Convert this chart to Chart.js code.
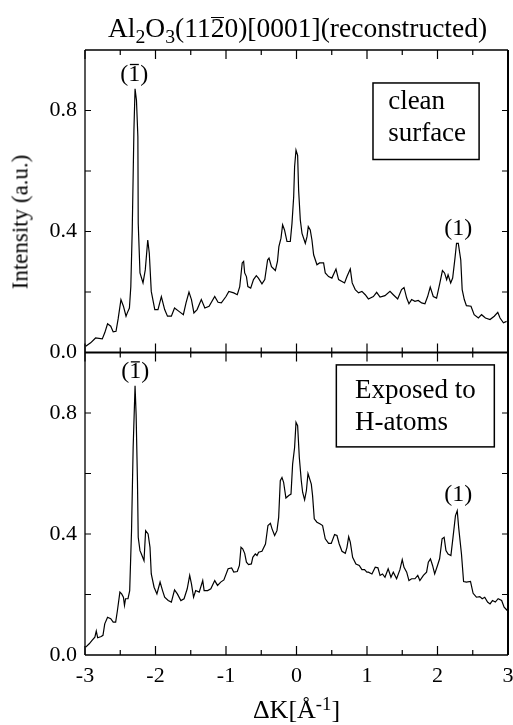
<!DOCTYPE html>
<html><head><meta charset="utf-8">
<script src="https://cdn.jsdelivr.net/npm/chart.js@4.4.0/dist/chart.umd.min.js"></script>
<style>
html,body{margin:0;padding:0;background:#fff;}
#wrap{position:relative;width:513px;height:725px;font-family:"Liberation Serif","Times New Roman",serif;color:#000;overflow:hidden;}
canvas{position:absolute;left:0;top:0;}
.t{position:absolute;white-space:nowrap;line-height:1;}
sub{font-size:0.72em;vertical-align:-0.28em;line-height:0;}
sup{font-size:0.72em;vertical-align:0.42em;line-height:0;}
.ov{display:inline-block;border-top:1.5px solid #000;line-height:0.74;}
</style></head><body>
<div id="wrap">
<canvas id="c" width="513" height="725"></canvas>
<div class="t" id="title" style="left:0;width:513px;top:14px;text-align:center;font-size:27.5px;padding-left:82px;box-sizing:border-box;">Al<sub>2</sub>O<sub>3</sub>(11<span class="ov">2</span>0)[0001](reconstructed)</div>
<div class="t" id="xlab" style="left:0;width:513px;top:697px;text-align:center;font-size:26px;padding-left:80px;box-sizing:border-box;">ΔK[Å<sup>-1</sup>]</div>
<div class="t" id="ylab" style="left:20px;top:222px;font-size:23px;transform:translate(-50%,-50%) rotate(-90deg);">Intensity (a.u.)</div>
</div>
<script>
// ---- data ----
const xTop = [-2.99,-2.92,-2.85,-2.755,-2.72,-2.68,-2.635,-2.60,-2.56,-2.53,-2.49,-2.455,-2.418,-2.40,-2.37,-2.35,-2.33,-2.306,-2.29,-2.27,-2.25,-2.245,-2.22,-2.177,-2.145,-2.11,-2.088,-2.06,-2.01,-1.965,-1.917,-1.87,-1.83,-1.775,-1.73,-1.667,-1.605,-1.567,-1.525,-1.49,-1.455,-1.41,-1.35,-1.30,-1.24,-1.16,-1.113,-1.066,-1.0,-0.96,-0.89,-0.84,-0.805,-0.77,-0.75,-0.735,-0.71,-0.69,-0.65,-0.61,-0.57,-0.54,-0.49,-0.45,-0.41,-0.39,-0.355,-0.30,-0.27,-0.25,-0.22,-0.197,-0.17,-0.135,-0.088,-0.064,-0.04,-0.027,-0.007,0.016,0.03,0.054,0.078,0.125,0.149,0.167,0.195,0.219,0.243,0.29,0.327,0.384,0.408,0.455,0.502,0.56,0.597,0.645,0.682,0.716,0.763,0.79,0.833,0.88,0.928,0.975,1.02,1.09,1.137,1.185,1.255,1.326,1.373,1.435,1.49,1.525,1.563,1.595,1.633,1.68,1.727,1.775,1.822,1.86,1.897,1.94,1.987,2.034,2.07,2.10,2.13,2.15,2.187,2.215,2.248,2.27,2.295,2.33,2.35,2.38,2.41,2.475,2.52,2.58,2.625,2.68,2.745,2.805,2.855,2.887,2.935,2.98];
const iTop = [0.021,0.032,0.048,0.045,0.065,0.095,0.087,0.068,0.070,0.111,0.175,0.153,0.120,0.131,0.147,0.218,0.405,0.735,0.872,0.834,0.713,0.427,0.263,0.230,0.273,0.372,0.328,0.202,0.142,0.142,0.185,0.142,0.120,0.120,0.147,0.136,0.125,0.164,0.200,0.175,0.131,0.142,0.175,0.147,0.153,0.185,0.166,0.164,0.185,0.202,0.197,0.191,0.218,0.296,0.301,0.263,0.251,0.218,0.213,0.241,0.254,0.246,0.227,0.241,0.306,0.312,0.284,0.271,0.301,0.350,0.378,0.422,0.405,0.367,0.367,0.427,0.515,0.614,0.669,0.652,0.537,0.438,0.394,0.361,0.383,0.416,0.405,0.372,0.323,0.290,0.296,0.296,0.263,0.251,0.246,0.276,0.241,0.235,0.230,0.251,0.276,0.230,0.208,0.197,0.202,0.191,0.177,0.185,0.199,0.183,0.188,0.202,0.191,0.177,0.208,0.215,0.180,0.161,0.175,0.169,0.172,0.164,0.161,0.185,0.216,0.185,0.180,0.230,0.271,0.263,0.241,0.257,0.230,0.246,0.312,0.361,0.361,0.306,0.208,0.175,0.155,0.153,0.125,0.114,0.125,0.114,0.109,0.120,0.133,0.114,0.098,0.103];
const xBot = [-2.99,-2.94,-2.90,-2.86,-2.84,-2.82,-2.77,-2.745,-2.72,-2.68,-2.635,-2.60,-2.565,-2.54,-2.505,-2.48,-2.455,-2.44,-2.425,-2.39,-2.366,-2.34,-2.317,-2.29,-2.275,-2.256,-2.245,-2.22,-2.20,-2.163,-2.14,-2.105,-2.078,-2.06,-2.02,-1.98,-1.935,-1.90,-1.87,-1.82,-1.775,-1.73,-1.69,-1.64,-1.595,-1.55,-1.515,-1.49,-1.46,-1.43,-1.38,-1.33,-1.31,-1.26,-1.215,-1.16,-1.12,-1.075,-1.03,-0.97,-0.92,-0.89,-0.84,-0.81,-0.787,-0.763,-0.735,-0.71,-0.68,-0.64,-0.62,-0.584,-0.56,-0.537,-0.49,-0.44,-0.405,-0.37,-0.347,-0.31,-0.277,-0.253,-0.23,-0.206,-0.183,-0.15,-0.11,-0.078,-0.055,-0.027,-0.007,0.016,0.04,0.068,0.087,0.115,0.14,0.163,0.18,0.21,0.228,0.252,0.29,0.337,0.37,0.408,0.455,0.493,0.54,0.574,0.606,0.645,0.692,0.716,0.74,0.763,0.796,0.843,0.89,0.928,0.965,0.998,1.02,1.07,1.117,1.155,1.185,1.22,1.255,1.30,1.34,1.373,1.42,1.467,1.50,1.525,1.563,1.595,1.633,1.68,1.72,1.75,1.80,1.845,1.87,1.90,1.93,1.96,2.0,2.03,2.065,2.094,2.12,2.15,2.19,2.22,2.255,2.28,2.30,2.34,2.37,2.41,2.468,2.505,2.552,2.60,2.634,2.67,2.71,2.745,2.78,2.82,2.86,2.91,2.945,2.99];
const iBot = [0.026,0.037,0.048,0.059,0.079,0.057,0.061,0.065,0.103,0.125,0.120,0.109,0.109,0.147,0.208,0.202,0.191,0.164,0.186,0.186,0.213,0.411,0.686,0.890,0.796,0.576,0.389,0.345,0.334,0.312,0.411,0.400,0.356,0.268,0.224,0.202,0.241,0.213,0.191,0.180,0.175,0.215,0.202,0.180,0.186,0.219,0.263,0.235,0.191,0.213,0.208,0.246,0.213,0.213,0.219,0.246,0.230,0.241,0.248,0.285,0.288,0.274,0.276,0.296,0.356,0.351,0.336,0.307,0.299,0.301,0.323,0.334,0.329,0.340,0.343,0.367,0.428,0.435,0.417,0.395,0.411,0.455,0.576,0.587,0.571,0.519,0.527,0.532,0.631,0.686,0.769,0.758,0.653,0.576,0.538,0.513,0.543,0.600,0.587,0.565,0.527,0.450,0.439,0.433,0.428,0.384,0.369,0.369,0.398,0.395,0.367,0.343,0.336,0.356,0.391,0.373,0.323,0.301,0.296,0.282,0.282,0.274,0.274,0.268,0.290,0.288,0.263,0.268,0.257,0.285,0.257,0.274,0.252,0.282,0.315,0.290,0.274,0.246,0.252,0.252,0.263,0.246,0.263,0.274,0.307,0.318,0.296,0.268,0.296,0.318,0.384,0.389,0.345,0.334,0.329,0.389,0.461,0.477,0.422,0.334,0.243,0.241,0.243,0.204,0.191,0.193,0.186,0.191,0.175,0.169,0.180,0.175,0.186,0.180,0.158,0.147];
const xTickLabels = [-3,-2,-1,0,1,2,3];
const yTickLabels = [0.0,0.4,0.8];
const panelNotes = [
  {axis:'yTop', lines:['clean','surface'], box:[1.085,2.59,0.891,0.638], tx:1.30, ty:[0.804,0.699]},
  {axis:'yBot', lines:['Exposed to','H-atoms'], box:[0.565,2.806,0.959,0.688], tx:0.83, ty:[0.851,0.745]}
];
const peakNotes = [
  {axis:'yTop', x:-2.30, y:0.919, bar:true},
  {axis:'yTop', x:2.295, y:0.409, bar:false},
  {axis:'yBot', x:-2.286, y:0.936, bar:true},
  {axis:'yBot', x:2.295, y:0.53, bar:false}
];

const FONT = '"Liberation Serif","Times New Roman",serif';
const toPts = (xs, ys) => xs.map((x, i) => ({x, y: ys[i]}));
const noPad = s => { s.paddingLeft = 0; s.paddingRight = 0; s.paddingTop = 0; s.paddingBottom = 0; };

const framePlugin = {
  id: 'frame',
  afterDraw(chart) {
    const {ctx, chartArea: a, scales} = chart;
    const sx = scales.x, yT = scales.yTop, yB = scales.yBot;
    ctx.save();
    ctx.strokeStyle = '#000';
    ctx.lineCap = 'butt';
    const mid = yT.getPixelForValue(0);
    ctx.lineWidth = 1.3;
    ctx.beginPath();
    ctx.moveTo(a.left, a.top); ctx.lineTo(a.right, a.top);
    ctx.moveTo(a.left, a.top); ctx.lineTo(a.left, a.bottom);
    ctx.moveTo(a.left, a.bottom); ctx.lineTo(a.right, a.bottom);
    ctx.stroke();
    ctx.lineWidth = 2;
    ctx.beginPath();
    ctx.moveTo(a.right, a.top); ctx.lineTo(a.right, a.bottom);
    ctx.moveTo(a.left, mid); ctx.lineTo(a.right, mid);
    ctx.stroke();
    ctx.lineWidth = 1.2;
    ctx.beginPath();
    for (let v = -3; v <= 3.0001; v += 0.5) {
      const px = sx.getPixelForValue(v);
      const L = Math.abs(v - Math.round(v)) < 1e-6 ? 9 : 5;
      ctx.moveTo(px, a.bottom); ctx.lineTo(px, a.bottom - L);
      ctx.moveTo(px, mid); ctx.lineTo(px, mid - L);
      ctx.moveTo(px, mid); ctx.lineTo(px, mid + L);
      ctx.moveTo(px, a.top); ctx.lineTo(px, a.top + L);
    }
    [yT, yB].forEach(s => {
      for (let v = 0.2; v < 1.0; v += 0.2) {
        const py = s.getPixelForValue(v);
        const L = 6;
        ctx.moveTo(a.left, py); ctx.lineTo(a.left + L, py);
        ctx.moveTo(a.right, py); ctx.lineTo(a.right - L, py);
      }
    });
    ctx.stroke();
    ctx.fillStyle = '#000';
    ctx.textAlign = 'left';
    ctx.textBaseline = 'alphabetic';
    ctx.font = '27px ' + FONT;
    panelNotes.forEach(n => {
      const s = scales[n.axis];
      const x0 = sx.getPixelForValue(n.box[0]), x1 = sx.getPixelForValue(n.box[1]);
      const y0 = s.getPixelForValue(n.box[2]), y1 = s.getPixelForValue(n.box[3]);
      ctx.lineWidth = 1.5;
      ctx.strokeRect(x0, y0, x1 - x0, y1 - y0);
      n.lines.forEach((t, i) => ctx.fillText(t, sx.getPixelForValue(n.tx), s.getPixelForValue(n.ty[i])));
    });
    ctx.font = '24px ' + FONT;
    ctx.textBaseline = 'middle';
    peakNotes.forEach(p => {
      const s = scales[p.axis];
      const cx = sx.getPixelForValue(p.x), cy = s.getPixelForValue(p.y);
      const w = ctx.measureText('(1)').width;
      const wp = ctx.measureText('(').width, w1 = ctx.measureText('1').width;
      const left = cx - w / 2;
      ctx.textAlign = 'left';
      ctx.fillText('(1)', left, cy);
      if (p.bar) {
        ctx.lineWidth = 1.3;
        ctx.beginPath();
        ctx.moveTo(left + wp + 1.5, cy - 10); ctx.lineTo(left + wp + w1 - 1.5, cy - 10);
        ctx.stroke();
      }
    });
    ctx.restore();
  }
};

new Chart(document.getElementById('c'), {
  type: 'line',
  data: {
    datasets: [
      {data: toPts(xTop, iTop), yAxisID: 'yTop', borderColor: '#000', borderWidth: 1.2, pointRadius: 0, tension: 0, fill: false},
      {data: toPts(xBot, iBot), yAxisID: 'yBot', borderColor: '#000', borderWidth: 1.2, pointRadius: 0, tension: 0, fill: false}
    ]
  },
  options: {
    responsive: false, animation: false, devicePixelRatio: 1,
    layout: {padding: {left: 0, right: 5, top: 50, bottom: 0}},
    plugins: {legend: {display: false}, tooltip: {enabled: false}, title: {display: false}},
    scales: {
      x: {
        type: 'linear', min: -3, max: 3,
        grid: {display: false, drawTicks: false}, border: {display: false},
        afterBuildTicks: s => { s.ticks = xTickLabels.map(v => ({value: v})); },
        afterFit: s => { s.height = 70; noPad(s); },
        ticks: {color: '#000', font: {family: FONT, size: 22}, padding: 8, maxRotation: 0, autoSkip: false,
          callback: v => String(v)}
      },
      yTop: {
        type: 'linear', position: 'left', stack: 'panels', stackWeight: 1, weight: 2,
        min: 0, max: 1.0,
        grid: {display: false, drawTicks: false}, border: {display: false},
        afterBuildTicks: s => { s.ticks = yTickLabels.map(v => ({value: v})); },
        afterFit: s => { s.width = 85; noPad(s); },
        ticks: {color: '#000', font: {family: FONT, size: 22}, padding: 8, callback: v => v.toFixed(1)}
      },
      yBot: {
        type: 'linear', position: 'left', stack: 'panels', stackWeight: 1, weight: 1,
        min: 0, max: 1.0,
        grid: {display: false, drawTicks: false}, border: {display: false},
        afterBuildTicks: s => { s.ticks = yTickLabels.map(v => ({value: v})); },
        afterFit: s => { s.width = 85; noPad(s); },
        ticks: {color: '#000', font: {family: FONT, size: 22}, padding: 8, callback: v => v.toFixed(1)}
      }
    }
  },
  plugins: [framePlugin]
});
</script>
</body></html>
